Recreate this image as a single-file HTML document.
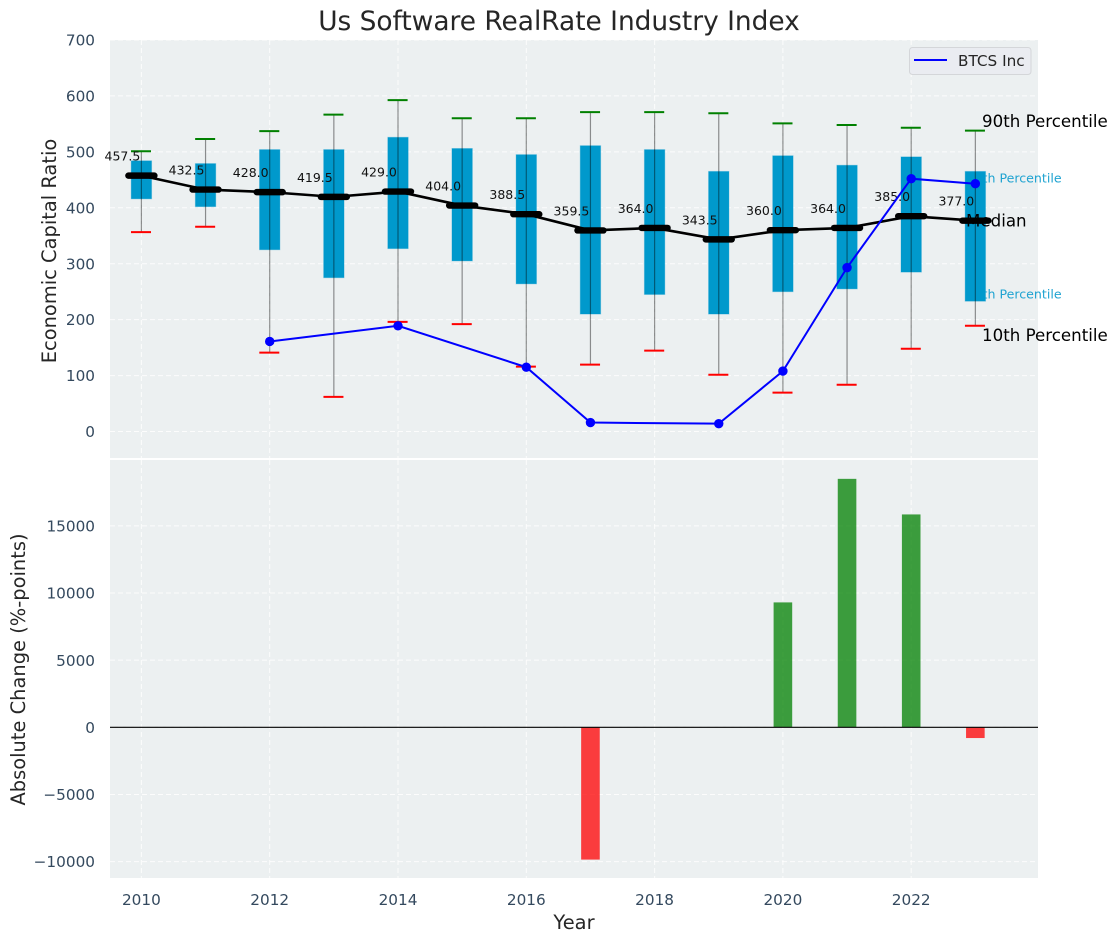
<!DOCTYPE html>
<html>
<head>
<meta charset="utf-8">
<title>Us Software RealRate Industry Index</title>
<style>
html,body{margin:0;padding:0;background:#fff;}
svg{display:block;font-family:"DejaVu Sans","Liberation Sans",sans-serif;}
.tick{font-size:15.28px;fill:#34495e;}
.axis-label{font-size:19.44px;fill:#262626;}
.note{font-size:16.67px;fill:#000;}
.note-blue{font-size:12.6px;fill:#1fa3d1;}
.mlabel{font-size:12.5px;fill:#111;}
.grid{stroke:#fff;stroke-width:1;stroke-dasharray:5 3;opacity:.85;}
</style>
</head>
<body>
<svg id="chart" width="1117" height="942" viewBox="0 0 1117 942" xmlns="http://www.w3.org/2000/svg">
  <rect x="0" y="0" width="1117" height="942" fill="#fff"/>
  <text x="559" y="30" text-anchor="middle" font-size="26.4" fill="#262626">Us Software RealRate Industry Index</text>
  <rect x="110" y="40" width="928" height="418" fill="#ecf0f1"/>
  <rect x="110" y="460" width="928" height="418" fill="#ecf0f1"/>
  <g id="gridTop"></g>
  <g id="gridBottom"></g>
  <g id="ticks"></g>
  <text class="axis-label" transform="translate(56,251) rotate(-90)" text-anchor="middle">Economic Capital Ratio</text>
  <text class="axis-label" transform="translate(25,669.5) rotate(-90)" text-anchor="middle">Absolute Change (%-points)</text>
  <text class="axis-label" x="574" y="929" text-anchor="middle">Year</text>
  <text class="note-blue" x="966.5" y="182.5">75th Percentile</text>
  <text class="note-blue" x="966.5" y="298.5">25th Percentile</text>
  <g id="boxes"></g>
  <text class="note" x="982" y="127">90th Percentile</text>
  <text class="note" x="966" y="226.5">Median</text>
  <text class="note" x="982" y="341">10th Percentile</text>
  <g id="medians"></g>
  <g id="btcs"></g>
  <g id="bars"></g>
  <line x1="110" x2="1038" y1="727.3" y2="727.3" stroke="#000" stroke-width="1.2"/>
  <g>
    <rect x="909.5" y="47.5" width="121.5" height="27" rx="3" fill="#eaecf1" stroke="#d4d6d9"/>
    <line x1="914" x2="947" y1="60" y2="60" stroke="#0000ff" stroke-width="2"/>
    <text x="958" y="66" font-size="15.28" fill="#262626">BTCS Inc</text>
  </g>
</svg>
<script>
var years = [2010,2011,2012,2013,2014,2015,2016,2017,2018,2019,2020,2021,2022,2023];
var p90 = [501,523,537,566.5,592.5,560,560,571,571,569,551,548,543,538];
var p75 = [484,479,504,504,526,506,495,511,504,465,493,476,491,465];
var medianValues = [457.5,432.5,428,419.5,429,404,388.5,359.5,364,343.5,360,364,385,377];
var p25 = [416,402,325,275,327,305,264,210,245,210,250,255,285,233];
var p10 = [356.5,366,141,62,196,192,116,119.5,144.5,101.5,69.5,83.5,148,189];
var btcsYears = [2012,2014,2016,2017,2019,2020,2021,2022,2023];
var btcsValues = [161,189,115,16,14,108,293,452,443];
var changeYears = [2017,2020,2021,2022,2023];
var changeValues = [-9850,9300,18500,15850,-800];
var xTicks = [2010,2012,2014,2016,2018,2020,2022];
var topTicks = [0,100,200,300,400,500,600,700];
var bottomTicks = [-10000,-5000,0,5000,10000,15000];

function xPos(v){return 141.4+(v-2010)*64.15;}
function yTop(v){return 431.5-v*0.5593;}
function yBottom(v){return 727.3-v*0.01343;}

var NS='http://www.w3.org/2000/svg';
function mk(parent,tag,attrs,text){
  var el=document.createElementNS(NS,tag);
  for(var k in attrs){el.setAttribute(k,attrs[k]);}
  if(text!==undefined){el.textContent=text;}
  document.getElementById(parent).appendChild(el);
  return el;
}
var el,i;

xTicks.forEach(function(t){
  el=mk('gridTop','line',{x1:xPos(t),x2:xPos(t),y1:40,y2:458,'class':'grid'});
  
  
  el=mk('gridBottom','line',{x1:xPos(t),x2:xPos(t),y1:460,y2:878,'class':'grid'});
  
  
  el=mk('ticks','text',{x:xPos(t),y:905,'text-anchor':'middle','class':'tick'},String(t));
  
  
});
topTicks.forEach(function(t){
  el=mk('gridTop','line',{x1:110,x2:1038,y1:yTop(t),y2:yTop(t),'class':'grid'});
  
  
  el=mk('ticks','text',{x:95,y:yTop(t)+5.6,'text-anchor':'end','class':'tick'},String(t));
  
  
});
bottomTicks.forEach(function(t){
  el=mk('gridBottom','line',{x1:110,x2:1038,y1:yBottom(t),y2:yBottom(t),'class':'grid'});
  
  
  el=mk('ticks','text',{x:95,y:yBottom(t)+5.6,'text-anchor':'end','class':'tick'},String(t).replace('-','\u2212'));
  
  
});

for(i=0;i<years.length;i++){
  var cx=xPos(years[i]);
  el=mk('boxes','rect',{x:cx-10.2,y:yTop(p75[i]),width:20.4,height:yTop(p25[i])-yTop(p75[i]),fill:'#0099cc',stroke:'#0099cc','stroke-opacity':0.3,'stroke-width':1});
  
  
  el=mk('boxes','line',{x1:cx,x2:cx,y1:yTop(p90[i]),y2:yTop(p10[i]),stroke:'#000','stroke-opacity':0.42,'stroke-width':1.2});
  
  
  el=mk('boxes','line',{x1:cx-10.4,x2:cx+9.6,y1:yTop(p90[i]),y2:yTop(p90[i]),stroke:'#008000','stroke-width':2});
  
  
  el=mk('boxes','line',{x1:cx-10.4,x2:cx+9.6,y1:yTop(p10[i]),y2:yTop(p10[i]),stroke:'#ff0000','stroke-width':2});
  
  
}

var medianPts=years.map(function(y,j){return xPos(y)+','+yTop(medianValues[j]);}).join(' ');
el=mk('medians','polyline',{points:medianPts,fill:'none',stroke:'#000','stroke-width':2.6});


for(i=0;i<years.length;i++){
  var mx=xPos(years[i]),my=yTop(medianValues[i]);
  el=mk('medians','line',{x1:mx-13,x2:mx+13,y1:my,y2:my,stroke:'#000','stroke-width':6.4,'stroke-linecap':'round'});
  
  
  el=mk('medians','text',{x:mx-19,y:my-15,'text-anchor':'middle','class':'mlabel'},medianValues[i].toFixed(1));
  
  
}

var btcsPts=btcsYears.map(function(y,j){return xPos(y)+','+yTop(btcsValues[j]);}).join(' ');
el=mk('btcs','polyline',{points:btcsPts,fill:'none',stroke:'#0000ff','stroke-width':2});


for(i=0;i<btcsYears.length;i++){
  el=mk('btcs','circle',{cx:xPos(btcsYears[i]),cy:yTop(btcsValues[i]),r:4.7,fill:'#0000ff'});
  
  
}

for(i=0;i<changeYears.length;i++){
  var v=changeValues[i],y0=yBottom(0),y1=yBottom(v);
  el=mk('bars','rect',{x:xPos(changeYears[i])-9.3,y:Math.min(y0,y1),width:18.6,height:Math.abs(y1-y0),fill:v>=0?'#008000':'#ff0000','fill-opacity':0.75});
  
  
}
</script>
</body>
</html>
